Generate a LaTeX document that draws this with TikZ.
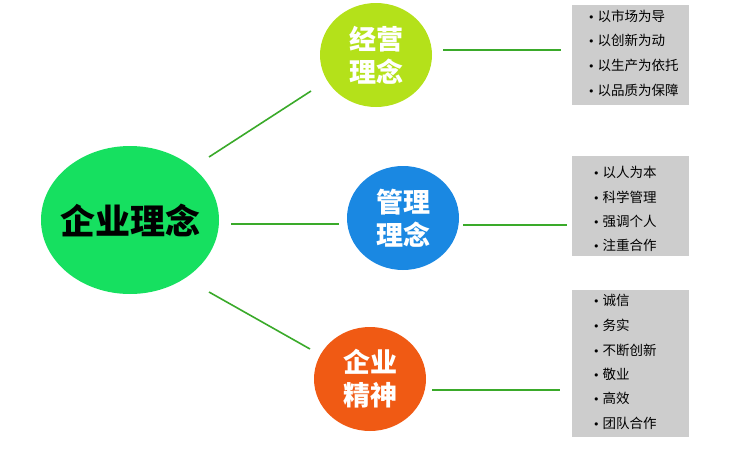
\documentclass[tikz,border=0pt]{standalone}
\usepackage{fontspec}
\setmainfont{Noto Sans CJK SC}
\newfontfamily\cjk{Noto Sans CJK SC}
\newfontfamily\dejavu{DejaVu Sans}
\definecolor{bigc}{HTML}{16E060}
\definecolor{limec}{HTML}{B4E11A}
\definecolor{bluec}{HTML}{1A88E2}
\definecolor{orangec}{HTML}{F05A14}
\definecolor{linec}{HTML}{3AAA2A}
\definecolor{boxc}{HTML}{CDCDCD}
\tikzset{
  conn/.style={draw=linec, line width=1.6pt},
  circ/.style={ellipse, inner sep=0pt, minimum width=112pt, minimum height=104pt, text=white, align=center, font=\cjk\bfseries\fontsize{27}{33}\selectfont},
  graybox/.style={fill=boxc, inner sep=0pt, minimum width=117pt, anchor=north west},
  item/.style={anchor=west, inner sep=0pt, font=\cjk\fontsize{13.5}{15}\selectfont},
}
\usetikzlibrary{shapes.geometric}
\newcommand{\bul}{{\dejavu\fontsize{11}{12}\selectfont\textbullet}\hspace{3pt}}
\begin{document}
\begin{tikzpicture}[x=1pt,y=-1pt]
\useasboundingbox (0,0) rectangle (750,450);
% main ellipse
\node[ellipse, fill=bigc, inner sep=0pt, minimum width=178pt, minimum height=148pt, font=\cjk\bfseries\fontsize{35}{40}\selectfont] (big) at (130,220) {\makebox[0pt]{企业理念}};
% circles
\node[circ, fill=limec] (c1) at (376,55) {经营\\理念};
\node[circ, fill=bluec] (c2) at (403,218) {管理\\理念};
\node[circ, fill=orangec] (c3) at (370,379) {企业\\精神};
% boxes
\node[graybox, minimum height=100pt] (b1) at (572,5) {};
\node[graybox, minimum height=100pt] (b2) at (572,156) {};
\node[graybox, minimum height=147pt] (b3) at (572,290) {};
% connector endpoints
\coordinate (s1) at (209,157); \coordinate (e1) at (311,91);
\coordinate (s2) at (231,224); \coordinate (e2) at (339,224);
\coordinate (s3) at (209,292); \coordinate (e3) at (310,349);
\coordinate (f1) at (443,50);  \coordinate (g1) at (561,50);
\coordinate (f2) at (463,225); \coordinate (g2) at (567,225);
\coordinate (f3) at (432,390); \coordinate (g3) at (560,390);
\draw[conn] (s1) -- (e1);
\draw[conn] (s2) -- (e2);
\draw[conn] (s3) -- (e3);
\draw[conn] (f1) -- (g1);
\draw[conn] (f2) -- (g2);
\draw[conn] (f3) -- (g3);
% items box1
\node[item] (i11) at (588,16) {\bul 以市场为导};
\node[item] (i12) at (588,40) {\bul 以创新为动};
\node[item] (i13) at (588,65) {\bul 以生产为依托};
\node[item] (i14) at (588,90) {\bul 以品质为保障};
% items box2
\node[item] (i21) at (593,172) {\bul 以人为本};
\node[item] (i22) at (593,197) {\bul 科学管理};
\node[item] (i23) at (593,221) {\bul 强调个人};
\node[item] (i24) at (593,245) {\bul 注重合作};
% items box3
\node[item] (i31) at (593,300) {\bul 诚信};
\node[item] (i32) at (593,325) {\bul 务实};
\node[item] (i33) at (593,350) {\bul 不断创新};
\node[item] (i34) at (593,374) {\bul 敬业};
\node[item] (i35) at (593,398) {\bul 高效};
\node[item] (i36) at (593,423) {\bul 团队合作};
\end{tikzpicture}
\end{document}
